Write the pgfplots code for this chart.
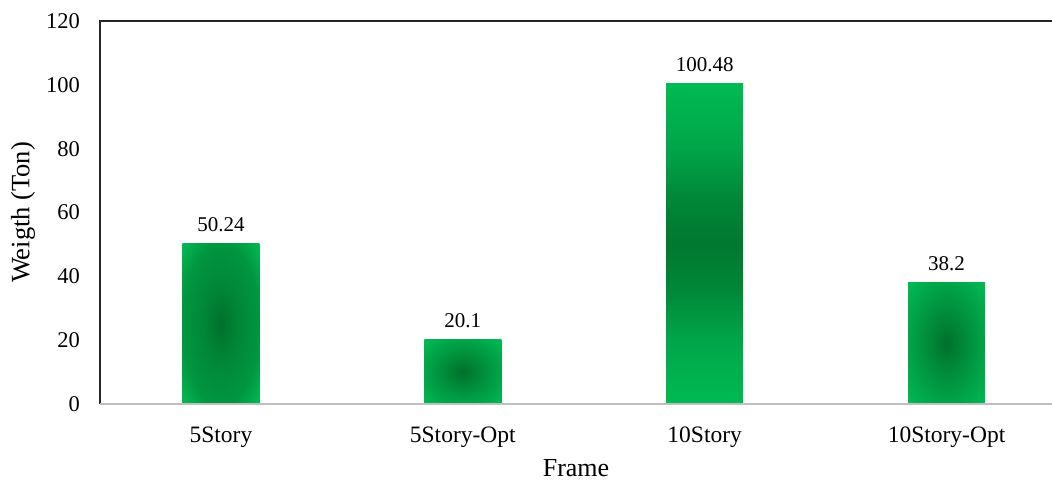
\documentclass[border=0pt]{standalone}
\usepackage{fontspec}
\setmainfont{Liberation Serif}
\usepackage{pgfplots}
\pgfplotsset{compat=1.18}
\definecolor{gdk}{RGB}{0,112,44}
\definecolor{gvd}{RGB}{0,120,48}
\definecolor{gmd}{RGB}{0,135,55}
\definecolor{gmid}{RGB}{0,150,64}
\definecolor{gml}{RGB}{0,166,73}
\definecolor{glt}{RGB}{0,186,82}
\pgfdeclareverticalshading{vshade}{100bp}{color(0bp)=(glt); color(25bp)=(glt); color(35bp)=(gml); color(43bp)=(gmd); color(50bp)=(gvd); color(57bp)=(gmd); color(65bp)=(gml); color(75bp)=(glt); color(100bp)=(glt)}
\pgfdeclareradialshading{rshade}{\pgfpoint{0bp}{0bp}}{color(0bp)=(gdk); color(10bp)=(gmd); color(25bp)=(gml); color(35bp)=(glt); color(50bp)=(glt)}
\pgfdeclareradialshading{rshadeb}{\pgfpoint{0bp}{0bp}}{color(0bp)=(gdk); color(12bp)=(gmd); color(25bp)=(gmid); color(35bp)=(glt); color(50bp)=(glt)}
\begin{document}
\begin{tikzpicture}
\useasboundingbox (-100pt,-77pt) rectangle (952pt,404pt);
\begin{axis}[
  at={(0,0)}, anchor=south west,
  scale only axis, width=952pt, height=383pt,
  xmin=-0.5, xmax=3.436, ymin=0, ymax=120,
  ytick={0,20,...,120},
  xtick={0,1,2,3},
  xticklabels={5Story,5Story-Opt,10Story,10Story-Opt},
  axis line style={draw=none},
  major tick length=0pt,
  yticklabel style={font=\fontsize{22.5}{26}\selectfont, /pgf/number format/assume math mode=true, anchor=east, inner sep=0pt, xshift=-20pt},
  xticklabel style={font=\fontsize{23.5}{27}\selectfont, anchor=base, inner sep=0pt, yshift=-39pt},
  xlabel={Frame},
  xlabel style={font=\fontsize{26}{30}\selectfont, at={(axis description cs:0.5,0)}, anchor=base, inner sep=0pt, yshift=-73pt},
  ylabel={Weigth (Ton)},
  ylabel style={font=\fontsize{26.5}{30}\selectfont, at={(axis description cs:-0.0809,0.5)}, anchor=center, inner sep=0pt},
  clip=false,
  every axis plot/.append style={ybar, bar width=77pt, bar shift=0pt, draw=none,
    nodes near coords, point meta=explicit symbolic,
    nodes near coords style={font=\fontsize{21}{25}\selectfont, anchor=base, inner sep=0pt, yshift=12pt, text=black}},
]
\addplot[shade, shading=rshadeb] coordinates {(0,50.24) [50.24]};
\addplot[shade, shading=rshade] coordinates {(1,20.1) [20.1]};
\addplot[shade, shading=vshade] coordinates {(2,100.48) [100.48]};
\addplot[shade, shading=rshade] coordinates {(3,38.2) [38.2]};
\draw[line width=1.3pt, black!85] (rel axis cs:0,0) -- (rel axis cs:0,1) -- (rel axis cs:1,1);
\draw[line width=1.5pt, black!25] (rel axis cs:0,0) -- (rel axis cs:1,0);
\end{axis}
\end{tikzpicture}
\end{document}
